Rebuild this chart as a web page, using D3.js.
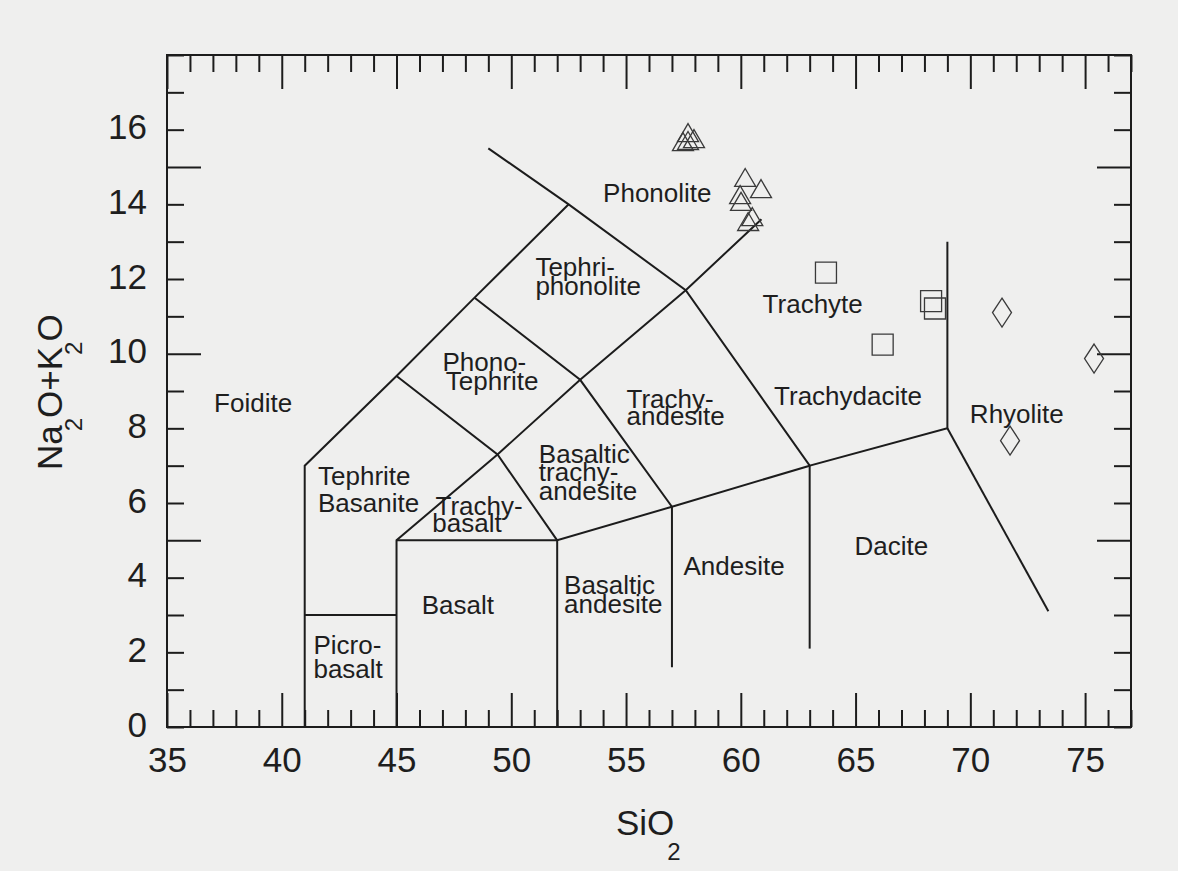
<!DOCTYPE html>
<html><head><meta charset="utf-8">
<script src="https://cdn.jsdelivr.net/npm/d3@7"></script>
<style>
html,body{margin:0;padding:0;background:#efefee;}
svg{display:block;font-family:"Liberation Sans",Arial,Helvetica,sans-serif;}
</style></head><body>
<svg id="chart" width="1178" height="871"></svg>
<script>
// ---------- data ----------
const xDomain = [35, 77];
const yDomain = [0, 18];
const xTickValues = d3.range(35, 78);          // every 1 wt% SiO2
const xTickLabels = [35, 40, 45, 50, 55, 60, 65, 70, 75];
const yTickValues = d3.range(0, 19);           // every 1 wt% alkali
const yTickLabels = [0, 2, 4, 6, 8, 10, 12, 14, 16];
const yMajorTicks = [5, 10, 15];

// TAS field boundaries [SiO2, Na2O+K2O]
const boundaryLeft      = [[41,0],[41,7],[45,9.4],[48.4,11.5],[52.5,14]];
const boundaryTop       = [[49,15.5],[52.5,14],[57.6,11.7],[63,7],[69,8],[69,13]];
const boundaryPicro     = [[41,3],[45,3]];
const boundaryDiagonal  = [[45,0],[45,5],[49.4,7.3],[53,9.3],[57.6,11.7],[60.9,13.6]];
const boundaryBase      = [[45,5],[52,5],[57,5.9],[63,7]];
const boundaryMid1      = [[52,0],[52,5],[49.4,7.3],[45,9.4]];
const boundaryMid2      = [[57,1.6],[57,5.9],[53,9.3],[48.4,11.5]];
const boundaryDacite    = [[63,2.1],[63,7]];
const boundaryRhyolite  = [[69,8],[73.4,3.1]];

// samples [SiO2, Na2O+K2O]
const triangleSamples = [[57.48,15.68],[57.70,15.92],[57.96,15.76],[57.70,15.71],
                         [60.19,14.72],[60.88,14.42],[59.97,14.26],[60.01,14.08],[60.50,13.67],[60.32,13.54]];
const squareSamples   = [[63.71,12.17],[68.29,11.41],[68.46,11.21],[66.18,10.24]];
const diamondSamples  = [[71.38,11.10],[75.39,9.87],[71.73,7.67]];

// field names: each field is a list of lines [text, SiO2 at left edge, alkali at baseline]
const fieldNames = [
  [["Foidite", 37.05, 8.45]],
  [["Phonolite", 54.0, 14.06]],
  [["Tephri-", 51.05, 12.07], ["phonolite", 51.05, 11.58]],
  [["Phono-", 47.0, 9.53], ["Tephrite", 47.15, 9.03]],
  [["Trachy-", 55.02, 8.54], ["andesite", 55.02, 8.10]],
  [["Trachyte", 60.95, 11.09]],
  [["Trachydacite", 61.45, 8.63]],
  [["Rhyolite", 69.98, 8.14]],
  [["Tephrite", 41.58, 6.49], ["Basanite", 41.58, 5.75]],
  [["Trachy-", 46.7, 5.68], ["basalt", 46.56, 5.22]],
  [["Basaltic", 51.2, 7.07], ["trachy-", 51.2, 6.58], ["andesite", 51.2, 6.07]],
  [["Basalt", 46.1, 3.02]],
  [["Basaltic", 52.3, 3.56], ["andesite", 52.3, 3.06]],
  [["Andesite", 57.5, 4.08]],
  [["Dacite", 64.95, 4.61]],
  [["Picro-", 41.38, 1.96], ["basalt", 41.38, 1.31]]
];

// ---------- chart ----------
const svg = d3.select("#chart");
const x = d3.scaleLinear().domain(xDomain).range([167, 1131]);
const y = d3.scaleLinear().domain(yDomain).range([727, 55]);
const ink = "#1c1c1c";
const textInk = "#1e1e1e";

const tickLen = 17, tickLenMajor = 34;

// bottom axis
const gB = svg.append("g").attr("transform", `translate(0,${y(0)})`)
  .call(d3.axisBottom(x).tickValues(xTickValues).tickSizeOuter(0).tickSize(-tickLen).tickPadding(20)
        .tickFormat(d => xTickLabels.includes(d) ? d : ""));
gB.selectAll(".tick line").attr("y2", d => d % 5 === 0 ? -tickLenMajor : -tickLen);
// top axis
const gT = svg.append("g").attr("transform", `translate(0,${y(18)})`)
  .call(d3.axisTop(x).tickValues(xTickValues).tickSizeOuter(0).tickSize(-tickLen).tickFormat(""));
gT.selectAll(".tick line").attr("y2", d => d % 5 === 0 ? tickLenMajor : tickLen);
// left axis
const gL = svg.append("g").attr("transform", `translate(${x(35)},0)`)
  .call(d3.axisLeft(y).tickValues(yTickValues).tickSizeOuter(0).tickSize(-tickLen).tickPadding(20)
        .tickFormat(d => yTickLabels.includes(d) ? d : ""));
gL.selectAll(".tick line").attr("x2", d => yMajorTicks.includes(d) ? tickLenMajor : tickLen);
gL.selectAll(".tick text").attr("dy", "0.26em");
// right axis
const gR = svg.append("g").attr("transform", `translate(${x(77)},0)`)
  .call(d3.axisRight(y).tickValues(yTickValues).tickSizeOuter(0).tickSize(-tickLen).tickFormat(""));
gR.selectAll(".tick line").attr("x2", d => yMajorTicks.includes(d) ? -tickLenMajor : -tickLen);

[gB, gT, gL, gR].forEach(g => {
  g.select(".domain").remove();
  g.attr("font-size", 35).attr("font-family", null);
  g.selectAll(".tick line").attr("stroke", ink).attr("stroke-width", 2);
  g.selectAll(".tick text").attr("fill", textInk);
  g.selectAll(".tick text").filter(function(){ return this.textContent === ""; }).remove();
});

// frame
svg.append("rect")
  .attr("x", x(35)).attr("y", y(18))
  .attr("width", x(77) - x(35)).attr("height", y(0) - y(18))
  .attr("fill", "none").attr("stroke", ink).attr("stroke-width", 2);

// boundaries
const line = d3.line().x(d => x(d[0])).y(d => y(d[1]));
const boundaries = [boundaryLeft, boundaryTop, boundaryPicro, boundaryDiagonal, boundaryBase,
                    boundaryMid1, boundaryMid2, boundaryDacite, boundaryRhyolite];
svg.append("g").selectAll("path").data(boundaries).join("path")
  .attr("d", line).attr("fill", "none").attr("stroke", ink)
  .attr("stroke-width", 2).attr("stroke-linejoin", "miter");

// field names (one text element per field, one tspan per line)
const names = svg.append("g").attr("font-size", 26).attr("fill", textInk)
  .selectAll("text").data(fieldNames).join("text");
names.selectAll("tspan").data(d => d).join("tspan")
  .attr("x", d => x(d[1])).attr("y", d => y(d[2])).text(d => d[0]);

// markers
const mk = svg.append("g").attr("fill", "none").attr("stroke", "#3a3a3a").attr("stroke-width", 1.3);
const tw = 21, th = 18;
mk.selectAll(".tri").data(triangleSamples).join("path").attr("class", "tri")
  .attr("transform", d => `translate(${x(d[0])},${y(d[1])})`)
  .attr("d", `M0,${-th/2}L${tw/2},${th/2}L${-tw/2},${th/2}Z`);
const sq = 21;
mk.selectAll(".sq").data(squareSamples).join("path").attr("class", "sq")
  .attr("transform", d => `translate(${x(d[0])},${y(d[1])})`)
  .attr("d", `M${-sq/2},${-sq/2}h${sq}v${sq}h${-sq}Z`);
const dw = 19, dh = 29;
mk.selectAll(".dia").data(diamondSamples).join("path").attr("class", "dia")
  .attr("transform", d => `translate(${x(d[0])},${y(d[1])})`)
  .attr("d", `M0,${-dh/2}L${dw/2},0L0,${dh/2}L${-dw/2},0Z`);

// axis titles
const xt = svg.append("text").attr("x", 616).attr("y", 835).attr("font-size", 35).attr("fill", textInk);
xt.append("tspan").text("SiO");
xt.append("tspan").attr("font-size", 24).attr("dx", -7).attr("dy", 25).text("2");

const yt = svg.append("text").attr("transform", "translate(62,470) rotate(-90)")
  .attr("font-size", 35).attr("fill", textInk);
yt.append("tspan").text("Na");
yt.append("tspan").attr("font-size", 24).attr("dx", -6).attr("dy", 20).text("2");
yt.append("tspan").attr("dy", -20).text("O+K");
yt.append("tspan").attr("font-size", 24).attr("dx", -8).attr("dy", 20).text("2");
yt.append("tspan").attr("dy", -20).text("O");
</script>
</body></html>
